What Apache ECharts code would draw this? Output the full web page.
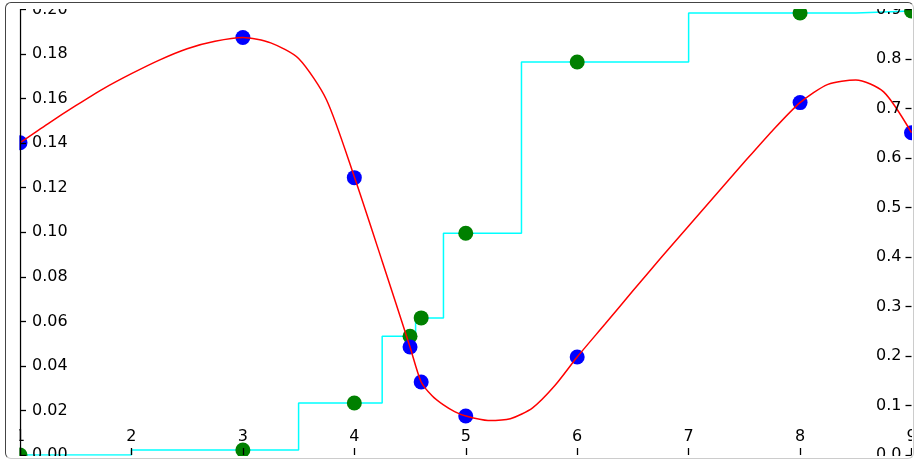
<!DOCTYPE html>
<html>
<head>
<meta charset="utf-8">
<script src="https://cdn.jsdelivr.net/npm/echarts@6/dist/echarts.min.js"></script>
<style>
html,body{margin:0;padding:0;background:#fff;}
#chart{position:absolute;left:0;top:0;width:922px;height:463px;}
#frame{position:absolute;left:5px;top:2px;width:909px;height:457px;box-sizing:border-box;
  border-top:1.5px solid #444;border-left:1.5px solid #444;border-right:1px solid #ccc;border-bottom:1px solid #ccc;
  border-radius:6px;pointer-events:none;}
</style>
</head>
<body>
<div id="chart"></div>
<div id="frame"></div>
<script>
// measured points (left axis)
const pointX = [1, 3, 4, 4.5, 4.6, 5, 6, 8, 9];
const blueValues = [0.1402, 0.1874, 0.1245, 0.0485, 0.0328, 0.0175, 0.044, 0.1582, 0.1447];
// cumulative values (right axis)
const greenValues = [0.0, 0.010, 0.105, 0.240, 0.277, 0.448, 0.794, 0.893, 0.897];
// red curve
const curveX = [1.0, 1.25, 1.5, 1.75, 2.0, 2.25, 2.5, 2.75, 3.0, 3.25, 3.5, 3.75, 4.0, 4.25, 4.5, 4.6, 4.7, 4.8, 4.9, 5.0, 5.2, 5.4, 5.6, 5.8, 6.0, 6.25, 6.5, 6.75, 7.0, 7.25, 7.5, 7.75, 8.0, 8.25, 8.5, 8.75, 9.0];
const curveY = [0.1402, 0.1487, 0.1568, 0.1645, 0.1712, 0.1773, 0.1824, 0.1857, 0.1874, 0.1850, 0.1780, 0.1595, 0.1249, 0.0870, 0.0485, 0.0328, 0.0265, 0.0225, 0.0195, 0.0175, 0.0155, 0.0163, 0.0212, 0.0312, 0.044, 0.0588, 0.0737, 0.0884, 0.1028, 0.1172, 0.1315, 0.1455, 0.1582, 0.1664, 0.1684, 0.1630, 0.1447];
const xTicks = {min: 1, max: 9, interval: 1};
const leftTicks = {min: 0, max: 0.2, interval: 0.02};
const rightTicks = {min: 0, max: 0.9, interval: 0.1};

const font = {fontFamily: 'DejaVu Sans', fontSize: 16, color: '#000'};
const chart = echarts.init(document.getElementById('chart'), null, {renderer: 'canvas'});
const zip = (a, b) => a.map((v, i) => [v, b[i]]);

chart.setOption({
  animation: false,
  grid: {left: 20, right: 10.5, top: 9.5, bottom: 7.5},
  xAxis: {
    type: 'value', min: xTicks.min, max: xTicks.max, interval: xTicks.interval, z: 10,
    axisLine: {show: false},
    axisTick: {inside: true, length: 7, lineStyle: {color: '#000', width: 1.3}},
    axisLabel: Object.assign({inside: true, margin: 10, formatter: v => String(v)}, font),
    splitLine: {show: false}
  },
  yAxis: [{
    type: 'value', position: 'left', min: leftTicks.min, max: leftTicks.max, interval: leftTicks.interval, z: 10,
    axisLine: {show: true, lineStyle: {color: '#000', width: 1.3}},
    axisTick: {show: true, inside: true, length: 6, lineStyle: {color: '#000', width: 1.3}},
    axisLabel: Object.assign({inside: true, margin: 12, formatter: v => v.toFixed(2)}, font),
    splitLine: {show: false}
  }, {
    type: 'value', position: 'right', min: rightTicks.min, max: rightTicks.max, interval: rightTicks.interval, z: 10,
    axisLine: {show: false},
    axisTick: {show: true, inside: true, length: 6, lineStyle: {color: '#000', width: 1.3}},
    axisLabel: Object.assign({inside: true, margin: 10, formatter: v => v.toFixed(1)}, font),
    splitLine: {show: false}
  }],
  graphic: [
    {type: 'rect', z: 50, shape: {x: 0, y: 0, width: 922, height: 9}, style: {fill: '#fff'}},
    {type: 'rect', z: 50, shape: {x: 0, y: 456, width: 922, height: 7}, style: {fill: '#fff'}},
    {type: 'rect', z: 50, shape: {x: 0, y: 0, width: 19.3, height: 463}, style: {fill: '#fff'}},
    {type: 'rect', z: 50, shape: {x: 912, y: 0, width: 10, height: 463}, style: {fill: '#fff'}}
  ],
  series: [{
    type: 'line', step: 'middle', yAxisIndex: 1, data: zip(pointX, greenValues), z: 1,
    showSymbol: false, lineStyle: {color: '#00ffff', width: 1.5}, itemStyle: {color: '#00ffff'}
  }, {
    type: 'scatter', yAxisIndex: 1, data: zip(pointX, greenValues), z: 2,
    symbolSize: 15, itemStyle: {color: '#008000', opacity: 1}
  }, {
    type: 'scatter', yAxisIndex: 0, data: zip(pointX, blueValues), z: 3,
    symbolSize: 15, itemStyle: {color: '#0000ff', opacity: 1}
  }, {
    type: 'line', yAxisIndex: 0, data: zip(curveX, curveY), z: 4, smooth: 0.25,
    showSymbol: false, lineStyle: {color: '#ff0000', width: 1.5}, itemStyle: {color: '#ff0000'}
  }]
});
</script>
</body>
</html>
